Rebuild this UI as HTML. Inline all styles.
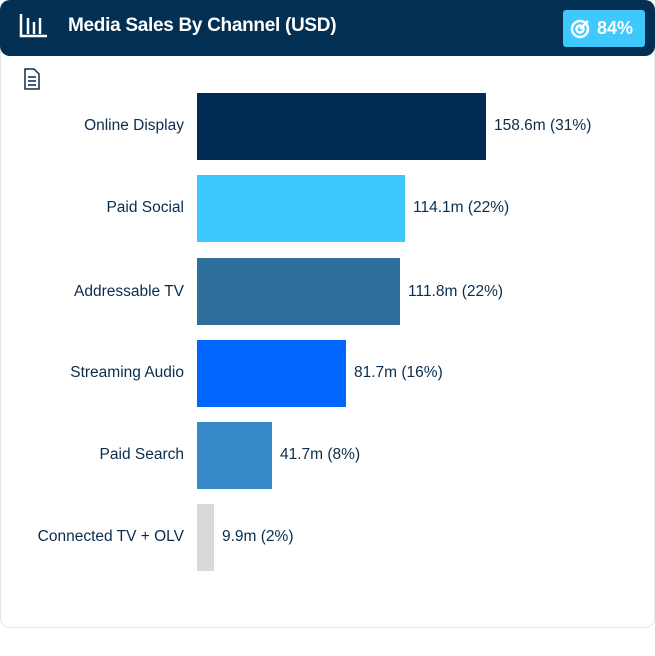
<!DOCTYPE html>
<html><head><style>
body{margin:0;width:655px;height:656px;background:#fff;font-family:"Liberation Sans",sans-serif;position:relative;overflow:hidden}
.card{position:absolute;left:0;top:0;width:653px;height:626px;border:1px solid #e6e6e6;border-radius:10px;background:#fff}
.hdr{position:absolute;left:0;top:0;width:655px;height:56px;background:#022f52;border-radius:10px}
.title{position:absolute;left:68px;top:15px;color:#fff;font-size:19px;font-weight:bold;letter-spacing:-0.3px}
.badge{position:absolute;left:563px;top:10px;width:82px;height:37px;background:#3ec8fb;border-radius:3px;color:#fff;font-weight:bold;font-size:18px}
.lbl{position:absolute;right:471px;font-size:15.5px;color:#0b2d4d;white-space:nowrap}
.val{position:absolute;font-size:15.5px;color:#0b2d4d;white-space:nowrap}
.bar{position:absolute;left:197px;height:67px}
</style></head><body>
<div class="card"></div>
<div class="hdr">
<svg style="position:absolute;left:19px;top:14px" width="30" height="24"><g fill="none" stroke="#fff" stroke-width="2.5"><path d="M2 0V22H28"/><path d="M9 4V20M15 8V20M21 4V20"/></g></svg>
<div class="title">Media Sales By Channel (USD)</div>
<div class="badge"><svg style="position:absolute;left:6px;top:8px" width="22" height="22"><g fill="none" stroke="#fff" stroke-width="2.5"><circle cx="11" cy="11" r="8"/><circle cx="11" cy="11" r="3.5"/><path d="M11 11L19 3"/></g></svg><span style="position:absolute;left:34px;top:8px">84%</span></div>
</div>
<svg style="position:absolute;left:24px;top:68px" width="16" height="22"><g fill="none" stroke="#0b2d4d" stroke-width="1.5"><path d="M1 1H10L15 6V21H1Z"/><path d="M4 9H12M4 13H12M4 17H12"/></g></svg>

<div class="bar" style="top:93px;width:289px;background:#002b52"></div>
<div class="lbl" style="top:117px">Online Display</div><div class="val" style="left:494px;top:117px">158.6m (31%)</div>
<div class="bar" style="top:175px;width:208px;background:#3ec9fc"></div>
<div class="lbl" style="top:199px">Paid Social</div><div class="val" style="left:413px;top:199px">114.1m (22%)</div>
<div class="bar" style="top:258px;width:203px;background:#2e6f9c"></div>
<div class="lbl" style="top:283px">Addressable TV</div><div class="val" style="left:408px;top:283px">111.8m (22%)</div>
<div class="bar" style="top:340px;width:149px;background:#0066ff"></div>
<div class="lbl" style="top:364px">Streaming Audio</div><div class="val" style="left:354px;top:364px">81.7m (16%)</div>
<div class="bar" style="top:422px;width:75px;background:#3589c6"></div>
<div class="lbl" style="top:446px">Paid Search</div><div class="val" style="left:280px;top:446px">41.7m (8%)</div>
<div class="bar" style="top:504px;width:17px;background:#d9d9d9"></div>
<div class="lbl" style="top:528px">Connected TV + OLV</div><div class="val" style="left:222px;top:528px">9.9m (2%)</div>
</body></html>
